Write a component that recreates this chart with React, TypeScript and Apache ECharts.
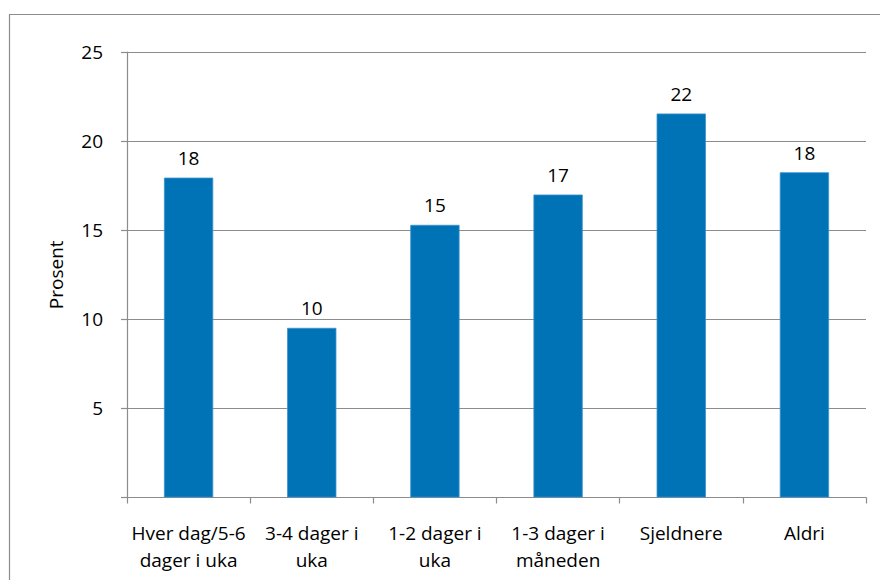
import React, { useEffect, useRef } from "react";
import * as echarts from "echarts";

// Hvor ofte – andel i prosent
const categories = [
  "Hver dag/5-6\ndager i uka",
  "3-4 dager i\nuka",
  "1-2 dager i\nuka",
  "1-3 dager i\nmåneden",
  "Sjeldnere",
  "Aldri",
];
const values = [17.95, 9.52, 15.3, 17.0, 21.55, 18.25];
const yTicks = [5, 10, 15, 20, 25];

const FONT = "'Open Sans', Lato, sans-serif";
const GRID = "#8c8c8c";
const FS = 19;

export default function App() {
  const ref = useRef<HTMLDivElement>(null);

  useEffect(() => {
    if (!ref.current) return;
    const chart = echarts.init(ref.current, undefined, { renderer: "svg" });
    chart.setOption({
      animation: false,
      backgroundColor: "#ffffff",
      textStyle: { fontFamily: FONT },
      graphic: [
        {
          type: "rect",
          shape: { x: 9.5, y: 14.5, width: 877, height: 600 },
          style: { fill: "none", stroke: GRID, lineWidth: 1.2 },
          silent: true,
        },
      ],
      grid: { left: 127, top: 52, right: 22, bottom: 90.5, containLabel: false },
      xAxis: {
        type: "category",
        data: categories,
        axisLine: { show: true, lineStyle: { color: GRID, width: 1.2 } },
        axisTick: {
          show: true,
          alignWithLabel: false,
          length: 6,
          lineStyle: { color: GRID, width: 1.2 },
        },
        axisLabel: {
          color: "#000",
          fontFamily: FONT,
          fontSize: FS,
          lineHeight: 27,
          margin: 22,
          interval: 0,
        },
      },
      yAxis: {
        type: "value",
        min: 0,
        max: 25,
        interval: 5,
        name: "Prosent",
        nameLocation: "middle",
        nameGap: 62,
        nameRotate: 90,
        nameTextStyle: { color: "#000", fontFamily: FONT, fontSize: FS },
        axisLine: { show: true, lineStyle: { color: GRID, width: 1.2 } },
        axisTick: { show: true, inside: false, length: 6, lineStyle: { color: GRID, width: 1.2 } },
        splitLine: { show: true, lineStyle: { color: GRID, width: 1.2 } },
        axisLabel: {
          color: "#000",
          fontFamily: FONT,
          fontSize: FS,
          margin: 24,
          formatter: (v: number) => (yTicks.includes(v) ? String(v) : ""),
        },
      },
      series: [
        {
          type: "bar",
          data: values,
          barWidth: "40%",
          itemStyle: { color: "#0072B6", borderColor: "#3d93cc", borderWidth: 0.8 },
          label: {
            show: true,
            position: "top",
            distance: 10,
            color: "#000",
            fontFamily: FONT,
            fontSize: FS,
            formatter: (p: any) => String(Math.round(p.value)),
          },
        },
      ],
    });
    return () => chart.dispose();
  }, []);

  return <div ref={ref} style={{ width: 888, height: 588, margin: -8 }} />;
}
